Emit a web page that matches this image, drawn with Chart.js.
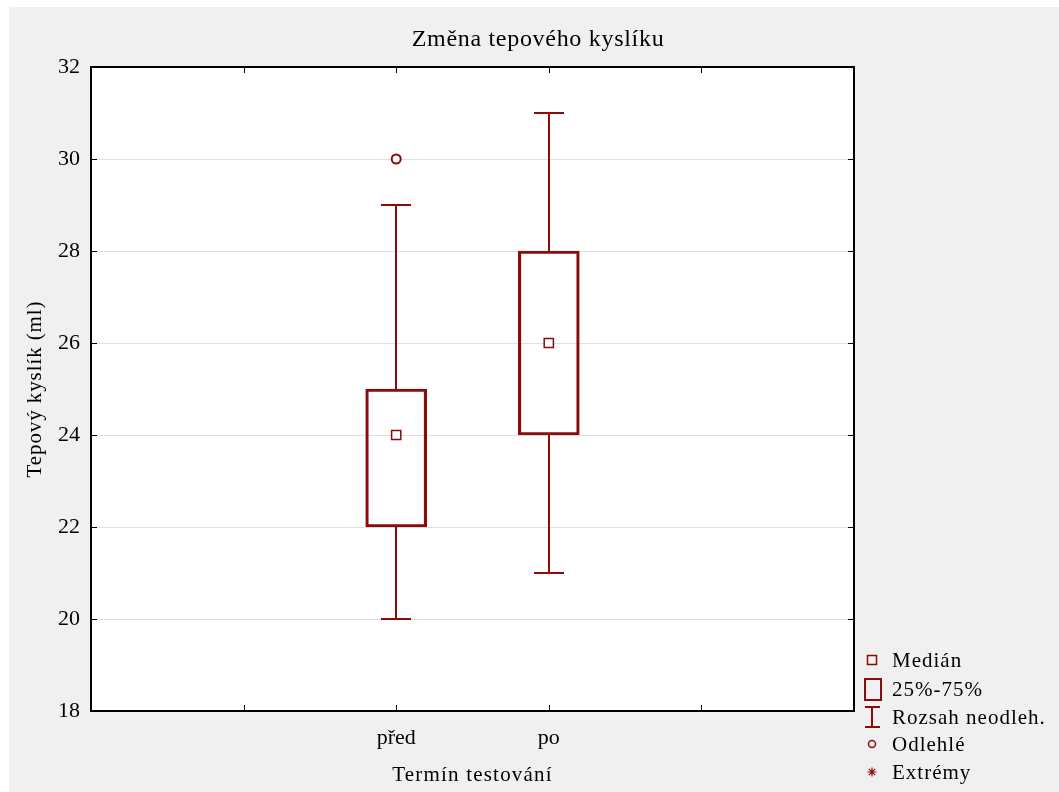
<!DOCTYPE html>
<html>
<head>
<meta charset="utf-8">
<script src="https://cdn.jsdelivr.net/npm/chart.js@4.4.0/dist/chart.umd.min.js"></script>
<style>
  html, body { margin: 0; padding: 0; background: #ffffff; }
  #c { display: block; }
</style>
</head>
<body>
<canvas id="c" width="1059" height="792"></canvas>
<script>
const chartTitle = 'Změna tepového kyslíku';
const yTitle = 'Tepový kyslík (ml)';
const xTitle = 'Termín testování';
const categories = ['před', 'po'];
const xTickLabels = ['', '', 'před', 'po', '', ''];
const whiskerLow = [20, 21];
const q1 = [22, 24];
const median = [24, 26];
const q3 = [25, 28];
const whiskerHigh = [29, 31];
const outlierCats = ['před'];
const outlierValues = [30];
const yMin = 18, yMax = 32, yStep = 2;
const legendLabels = ['Medián', '25%-75%', 'Rozsah neodleh.', 'Odlehlé', 'Extrémy'];

const RED = '#8b0a0a';
const FONT = '"Liberation Serif", "Times New Roman", serif';

const boxData = categories.map((c, i) => ({ x: c, y: [q1[i], q3[i]] }));
const medianData = categories.map((c, i) => ({ x: c, y: median[i] }));
const outlierData = outlierCats.map((c, i) => ({ x: c, y: outlierValues[i] }));

function spaced(ctx, px) {
  if ('letterSpacing' in ctx) ctx.letterSpacing = px + 'px';
}

const decorPlugin = {
  id: 'decor',
  beforeDraw(chart) {
    const ctx = chart.ctx;
    const a = chart.chartArea;
    ctx.save();
    ctx.fillStyle = '#ffffff';
    ctx.fillRect(0, 0, chart.width, chart.height);
    ctx.fillStyle = '#f0f0f0';
    ctx.fillRect(9, 7, chart.width - 9, chart.height - 7);
    ctx.fillStyle = '#ffffff';
    ctx.fillRect(a.left, a.top, a.right - a.left, a.bottom - a.top);
    ctx.restore();
  },
  afterDatasetsDraw(chart) {
    const ctx = chart.ctx;
    const xs = chart.scales.x, ys = chart.scales.y;
    ctx.save();
    ctx.strokeStyle = RED;
    ctx.lineWidth = 2;
    categories.forEach((c, i) => {
      const px = Math.round(xs.getPixelForValue(xTickLabels.indexOf(c)));
      const capHalf = 15;
      const segs = [[q3[i], whiskerHigh[i]], [q1[i], whiskerLow[i]]];
      segs.forEach(([from, to]) => {
        const y0 = ys.getPixelForValue(from), y1 = ys.getPixelForValue(to);
        ctx.beginPath();
        ctx.moveTo(px, y0);
        ctx.lineTo(px, y1);
        ctx.moveTo(px - capHalf, y1);
        ctx.lineTo(px + capHalf, y1);
        ctx.stroke();
      });
    });
    ctx.restore();
  },
  afterDraw(chart) {
    const ctx = chart.ctx;
    const a = chart.chartArea;
    const xs = chart.scales.x, ys = chart.scales.y;
    ctx.save();
    // frame
    ctx.strokeStyle = '#000000';
    ctx.lineWidth = 2;
    ctx.strokeRect(a.left, a.top, a.right - a.left, a.bottom - a.top);
    // inward ticks
    ctx.lineWidth = 1;
    const tl = 6;
    ctx.beginPath();
    for (let v = yMin; v <= yMax; v += yStep) {
      const py = Math.round(ys.getPixelForValue(v)) + 0.5;
      ctx.moveTo(a.left, py); ctx.lineTo(a.left + tl, py);
      ctx.moveTo(a.right, py); ctx.lineTo(a.right - tl, py);
    }
    xTickLabels.forEach((l, i) => {
      const px = Math.round(xs.getPixelForValue(i)) + 0.5;
      ctx.moveTo(px, a.bottom); ctx.lineTo(px, a.bottom - tl);
      ctx.moveTo(px, a.top); ctx.lineTo(px, a.top + tl);
    });
    ctx.stroke();

    // title
    ctx.fillStyle = '#000000';
    ctx.font = '24px ' + FONT;
    spaced(ctx, 0.7);
    ctx.textAlign = 'center';
    ctx.textBaseline = 'alphabetic';
    ctx.fillText(chartTitle, 538, 46);
    // x title
    ctx.font = '21px ' + FONT;
    spaced(ctx, 1.2);
    ctx.fillText(xTitle, (a.left + a.right) / 2, 781);
    // y title
    ctx.save();
    ctx.translate(41, (a.top + a.bottom) / 2);
    ctx.rotate(-Math.PI / 2);
    ctx.textBaseline = 'alphabetic';
    spaced(ctx, 0.9);
    ctx.fillText(yTitle, 0, 0);
    ctx.restore();

    // legend
    const sx = 872, tx = 892;
    const rows = [660, 689, 717, 744, 772];
    ctx.font = '21px ' + FONT;
    spaced(ctx, 1);
    ctx.textAlign = 'left';
    ctx.textBaseline = 'middle';
    ctx.fillStyle = '#000000';
    legendLabels.forEach((t, i) => ctx.fillText(t, tx, rows[i] + 1));
    ctx.strokeStyle = RED;
    ctx.lineWidth = 1.5;
    // median square
    ctx.strokeRect(sx - 4.5, rows[0] - 4.5, 9, 9);
    // box
    ctx.lineWidth = 2;
    ctx.strokeRect(sx - 7, rows[1] - 10, 16, 21);
    // whisker
    ctx.beginPath();
    ctx.moveTo(sx, rows[2] - 10); ctx.lineTo(sx, rows[2] + 10);
    ctx.moveTo(sx - 7, rows[2] - 10); ctx.lineTo(sx + 8, rows[2] - 10);
    ctx.moveTo(sx - 7, rows[2] + 10); ctx.lineTo(sx + 8, rows[2] + 10);
    ctx.stroke();
    // outlier circle
    ctx.lineWidth = 1.5;
    ctx.beginPath();
    ctx.arc(sx, rows[3], 3.5, 0, Math.PI * 2);
    ctx.stroke();
    // extreme asterisk
    ctx.lineWidth = 1.2;
    ctx.beginPath();
    const r = 4.5;
    ctx.moveTo(sx - r, rows[4]); ctx.lineTo(sx + r, rows[4]);
    ctx.moveTo(sx, rows[4] - r); ctx.lineTo(sx, rows[4] + r);
    ctx.moveTo(sx - r * 0.7, rows[4] - r * 0.7); ctx.lineTo(sx + r * 0.7, rows[4] + r * 0.7);
    ctx.moveTo(sx + r * 0.7, rows[4] - r * 0.7); ctx.lineTo(sx - r * 0.7, rows[4] + r * 0.7);
    ctx.stroke();
    ctx.restore();
  }
};

new Chart(document.getElementById('c'), {
  data: {
    labels: xTickLabels,
    datasets: [
      {
        type: 'bar',
        data: boxData,
        backgroundColor: 'rgba(255,255,255,0)',
        borderColor: RED,
        borderWidth: 2.5,
        borderSkipped: false,
        barThickness: 61,
        order: 3
      },
      {
        type: 'line',
        data: medianData,
        showLine: false,
        pointStyle: 'rect',
        pointRadius: 6.5,
        pointBorderWidth: 1.5,
        pointBackgroundColor: '#ffffff',
        pointBorderColor: RED,
        order: 1
      },
      {
        type: 'line',
        data: outlierData,
        showLine: false,
        pointStyle: 'circle',
        pointRadius: 4.5,
        pointBorderWidth: 2,
        pointBackgroundColor: '#ffffff',
        pointBorderColor: RED,
        order: 2
      }
    ]
  },
  options: {
    responsive: false,
    animation: false,
    devicePixelRatio: 1,
    layout: { padding: { left: 0, top: 67, right: 205, bottom: 0 } },
    plugins: { legend: { display: false }, title: { display: false }, tooltip: { enabled: false } },
    scales: {
      x: {
        type: 'category',
        offset: false,
        grid: { display: false, drawTicks: false },
        border: { display: false },
        ticks: { autoSkip: false, maxRotation: 0, padding: 14, color: '#000', font: { family: FONT, size: 22 } },
        afterFit(s) { s.height = 81; }
      },
      y: {
        type: 'linear',
        min: yMin, max: yMax,
        grid: { color: '#e0e0e0', lineWidth: 1, drawTicks: false },
        border: { display: false },
        ticks: { stepSize: yStep, padding: 11, color: '#000', font: { family: FONT, size: 22 } },
        afterFit(s) { s.width = 91; }
      }
    }
  },
  plugins: [decorPlugin]
});
</script>
</body>
</html>
